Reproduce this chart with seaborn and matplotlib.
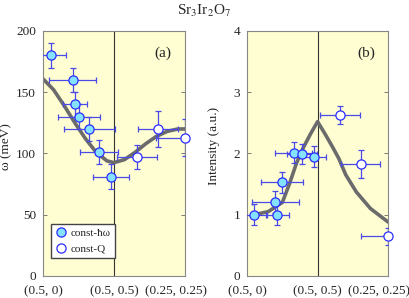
import numpy as np
import pandas as pd
import matplotlib
matplotlib.use("Agg")
import matplotlib.pyplot as plt
import matplotlib.transforms as mtransforms
import seaborn as sns

# path positions: 0 = (0.5, 0), 1 = (0.5, 0.5), 2 = (0.25, 0.25)
tick_pos = [0, 1, 2]
tick_labels = ["(0.5, 0)", "(0.5, 0.5)", "(0.25, 0.25)"]

# (a) dispersion
e_hw_x = [0.11, 0.42, 0.45, 0.51, 0.65, 0.79, 0.96]
e_hw_y = [180, 160, 140, 130, 120, 101, 81]
e_hw_xerr = [0.22, 0.33, 0.17, 0.30, 0.36, 0.27, 0.25]
e_hw_yerr = [10, 10, 10, 10, 10, 10, 10]

e_q_x = [1.33, 1.62, 2.0]
e_q_y = [97, 120, 113]
e_q_xerr = [0.28, 0.28, 0.40]
e_q_yerr = [10, 15, 15]

e_fit_x = [0, 0.15, 0.3, 0.45, 0.6, 0.75, 0.9, 1.0, 1.15, 1.3, 1.45, 1.6, 1.75, 1.9, 2.0]
e_fit_y = [161, 152, 139, 125, 112, 101, 94, 92.5, 95, 101, 108, 114, 118, 120, 120]

# (b) intensity
i_hw_x = [0.10, 0.43, 0.40, 0.50, 0.66, 0.78, 0.95]
i_hw_y = [1.0, 1.0, 1.2, 1.53, 2.01, 1.99, 1.95]
i_hw_xerr = [0.18, 0.16, 0.33, 0.30, 0.26, 0.21, 0.17]
i_hw_yerr = [0.17, 0.17, 0.18, 0.17, 0.17, 0.17, 0.17]

i_q_x = [1.32, 1.61, 2.0]
i_q_y = [2.63, 1.83, 0.65]
i_q_xerr = [0.28, 0.28, 0.39]
i_q_yerr = [0.15, 0.23, 0.14]

i_fit_x = [0.1, 0.3, 0.5, 0.6, 0.7, 0.8, 0.9, 1.0, 1.1, 1.2, 1.3, 1.4, 1.55, 1.75, 2.0]
i_fit_y = [1.0, 1.05, 1.2, 1.5, 1.84, 2.1, 2.32, 2.52, 2.33, 2.13, 1.92, 1.65, 1.37, 1.1, 0.88]

sns.set_theme(style="ticks")
plt.rcParams["font.family"] = ["Liberation Serif", "DejaVu Serif"]
plt.rcParams["mathtext.fontset"] = "stix"

fig = plt.figure(figsize=(4.09, 2.98), dpi=100)
ax1 = fig.add_axes([0.105, 0.074, 0.347, 0.822])
ax2 = fig.add_axes([0.604, 0.074, 0.345, 0.822])

bg = "#fffdd2"
err_c = "#4a4ae6"
edge_c = "#2c2cff"
fill_c = "#85e2ff"


def draw_panel(ax, fx, fy, hx, hy, hxe, hye, qx, qy, qxe, qye, label):
    ax.set_facecolor(bg)
    fit = pd.DataFrame({"x": fx, "y": fy})
    sns.lineplot(data=fit, x="x", y="y", ax=ax, color="#6b6b6b", lw=2.6, zorder=2)
    ax.axvline(1, color="#333333", lw=0.8, zorder=1)
    # error bars (clipped at the frame), then markers on top
    for xs, ys, xe, ye in [(hx, hy, hxe, hye), (qx, qy, qxe, qye)]:
        ax.errorbar(xs, ys, xerr=xe, yerr=ye, fmt="none", ecolor=err_c,
                    elinewidth=0.9, capsize=2.2, capthick=0.9, zorder=3)
    ax.plot(hx, hy, "o", ms=6.6, mfc=fill_c, mec=edge_c, mew=0.9, zorder=4,
            clip_on=False, label="const-ħω")
    ax.plot(qx, qy, "o", ms=6.6, mfc="white", mec=edge_c, mew=0.9, zorder=4,
            clip_on=False, label="const-Q")
    ax.set_xlim(0, 2)
    ax.set_xticks(tick_pos)
    ax.set_xticklabels(tick_labels)
    ax.tick_params(axis="x", length=0, labelsize=9.5, pad=7)
    ax.tick_params(axis="y", direction="in", left=True, right=True, length=3,
                   width=0.6, color="#666666", labelsize=9.5, pad=5)
    # last label sits a little to the left, as in the original
    lab = ax.get_xticklabels()[-1]
    lab.set_transform(lab.get_transform() +
                      mtransforms.ScaledTranslation(-0.09, 0, fig.dpi_scale_trans))
    for s in ax.spines.values():
        s.set_color("#888888")
        s.set_linewidth(0.8)
    ax.text(0.845, 0.91, label, transform=ax.transAxes, fontsize=11,
            ha="center", va="center")
    ax.set_xlabel("")


draw_panel(ax1, e_fit_x, e_fit_y, e_hw_x, e_hw_y, e_hw_xerr, e_hw_yerr,
           e_q_x, e_q_y, e_q_xerr, e_q_yerr, "(a)")
ax1.set_ylim(0, 200)
ax1.set_yticks([0, 50, 100, 150, 200])
ax1.set_ylabel("ω (meV)", fontsize=9.5)
ax1.yaxis.set_label_coords(-0.215, 0.53)
ax1.legend(loc="lower left", bbox_to_anchor=(0.02, 0.05), fontsize=8, frameon=True,
           fancybox=False, edgecolor="#444444", framealpha=1, handletextpad=0.3,
           handlelength=1.0, borderpad=0.4, labelspacing=0.5)

draw_panel(ax2, i_fit_x, i_fit_y, i_hw_x, i_hw_y, i_hw_xerr, i_hw_yerr,
           i_q_x, i_q_y, i_q_xerr, i_q_yerr, "(b)")
ax2.set_ylim(0, 4)
ax2.set_yticks([0, 1, 2, 3, 4])
ax2.set_ylabel("Intensity (a.u.)", fontsize=9.5)
ax2.yaxis.set_label_coords(-0.19, 0.53)

fig.text(0.5, 0.962, "Sr$_3$Ir$_2$O$_7$", ha="center", va="center", fontsize=11)

fig.savefig("out.png", dpi=100)
